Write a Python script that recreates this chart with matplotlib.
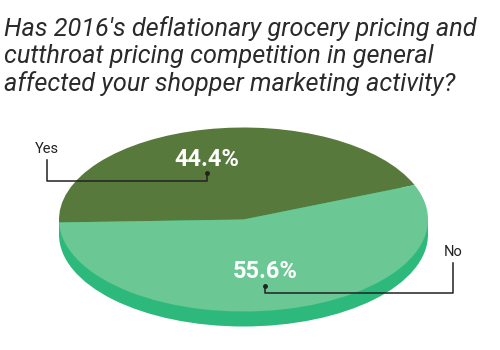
import matplotlib
matplotlib.use("Agg")
import matplotlib.pyplot as plt
from matplotlib.patches import Wedge, Ellipse, Rectangle
from matplotlib.transforms import Affine2D

title = "Has 2016's deflationary grocery pricing and\ncutthroat pricing competition in general\naffected your shopper marketing activity?"
categories = ["Yes", "No"]
values = [44.4, 55.6]
colors = ["#57793c", "#6bc794"]
side_color = "#2eb97c"

fig = plt.figure(figsize=(5, 3.5), dpi=100)
ax = fig.add_axes([0, 0, 1, 1])
ax.set_xlim(0, 500)
ax.set_ylim(350, 0)
ax.axis("off")

cx, cy, rx, ry, depth = 243.5, 219.5, 184.5, 92, 15
unit = Affine2D().scale(rx, -ry).translate(cx, cy) + ax.transData

# depth (side)
ax.add_patch(Ellipse((cx, cy + depth), 2 * rx, 2 * ry, color=side_color, lw=0))
ax.add_patch(Rectangle((cx - rx, cy), 2 * rx, depth, color=side_color, lw=0))

start = 22.0
total = sum(values)
angle = start
for v, c in zip(values, colors):
    span = 360 * v / total
    w = Wedge((0, 0), 1, angle, angle + span, facecolor=c, edgecolor="none", lw=0)
    w.set_transform(unit)
    ax.add_patch(w)
    angle += span

# percentage labels
pct_pos = [(207, 159), (265, 272)]
for v, (x, y) in zip(values, pct_pos):
    ax.text(x, y, f"{v:.1f}%", color="white", fontsize=17, fontweight="bold",
            family="Roboto", ha="center", va="center")

# leader lines
ax.text(47, 149, categories[0], fontsize=10.5, family="Roboto", color="#222222",
        ha="center", va="center")
ax.plot([47, 47, 207, 207], [160, 181, 181, 173], color="#222222", lw=1.1)
ax.plot([207], [173], marker="o", ms=2.5, color="#222222")

ax.text(453, 252, categories[1], fontsize=10.5, family="Roboto", color="#222222",
        ha="center", va="center")
ax.plot([453, 453, 265, 265], [263, 293, 293, 286], color="#222222", lw=1.1)
ax.plot([265], [286], marker="o", ms=2.5, color="#222222")

fig.text(4 / 500, 1 - 16 / 350, title, fontsize=18.2, style="italic", family="Roboto",
         color="#2a2a2a", ha="left", va="top", linespacing=1.17)

fig.savefig("out.png", dpi=100)
